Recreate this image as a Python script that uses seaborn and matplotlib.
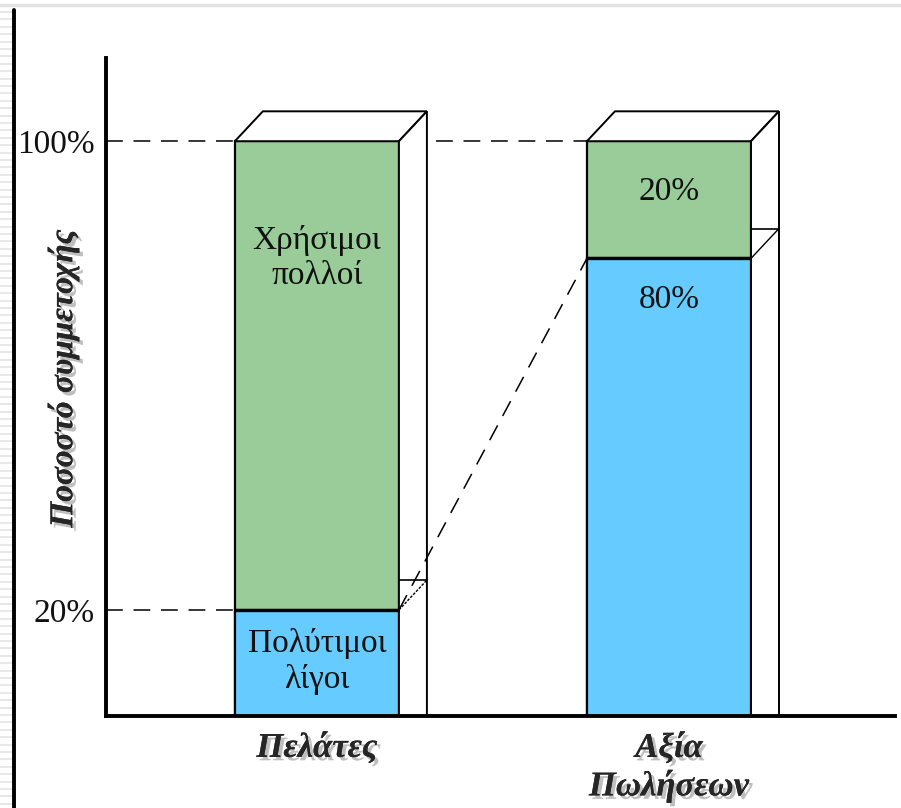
import numpy as np
import pandas as pd
import matplotlib
matplotlib.use("Agg")
import matplotlib.pyplot as plt
import matplotlib.patheffects as pe
from matplotlib.patches import Polygon
from matplotlib.lines import Line2D
import seaborn as sns

# ---- data -------------------------------------------------------------
categories = ["Πελάτες", "Αξία\nΠωλήσεων"]
total_share = [100, 100]          # full height of each column (%)
valuable_share = [20, 80]         # "Πολύτιμοι λίγοι" part (%)
useful_share = [80, 20]           # "Χρήσιμοι πολλοί" part (%)
ytick_values = [20, 100]
ytick_labels = ["20%", "100%"]
ylabel_text = "Ποσοστό συμμετοχής"
left_texts = ["Χρήσιμοι\nπολλοί", "Πολύτιμοι\nλίγοι"]

GREEN = "#99CC99"
BLUE = "#66CCFF"

sns.set_theme(style="white")
plt.rcParams["font.family"] = ["Liberation Serif", "DejaVu Serif"]

fig = plt.figure(figsize=(9.01, 8.08), dpi=100)
W, H = 901, 808
ax = fig.add_axes([106 / W, 92 / H, 789 / W, 658 / H])

bar_w = 0.466
df = pd.DataFrame({"cat": categories, "total": total_share, "valuable": valuable_share})

sns.barplot(data=df, x="cat", y="total", color=GREEN, saturation=1, width=bar_w,
            edgecolor="black", linewidth=1.6, ax=ax, zorder=2)
sns.barplot(data=df, x="cat", y="valuable", color=BLUE, saturation=1, width=bar_w,
            edgecolor="black", linewidth=1.6, ax=ax, zorder=2)

xlim = (-0.599, 1.642)
ylim = (1.9, 114.2)
ax.set_xlim(*xlim)
ax.set_ylim(*ylim)

# depth of the pseudo-3D faces
dx, dy = 0.0795, 5.1

for i, (tot, val) in enumerate(zip(total_share, valuable_share)):
    x0, x1 = i - bar_w / 2, i + bar_w / 2
    # top face
    ax.add_patch(Polygon([(x0, tot), (x0 + dx, tot + dy), (x1 + dx, tot + dy), (x1, tot)],
                         closed=True, facecolor="white", edgecolor="black", lw=1.4, zorder=3))
    # side face
    ax.add_patch(Polygon([(x1, -5), (x1, tot), (x1 + dx, tot + dy), (x1 + dx, -5)],
                         closed=True, facecolor="white", edgecolor="black", lw=1.4, zorder=3))
    # split marks on the side face
    ax.plot([x1, x1 + dx], [val + dy, val + dy], color="black", lw=1.2, zorder=4)
    ax.plot([x1, x1 + dx], [val, val + dy], color="black", lw=1.0,
            ls=(0, (2, 1)) if i == 0 else "-", zorder=4)
    # thicker boundary between the two segments
    ax.plot([x0, x1], [val, val], color="black", lw=2.4, zorder=4, solid_capstyle="butt")

# dashed guide lines
dash = (0, (11, 7))
ax.plot([xlim[0], 1 - bar_w / 2], [total_share[0], total_share[0]],
        color="black", lw=1.1, ls=dash, zorder=1)
ax.plot([xlim[0], 0 - bar_w / 2], [valuable_share[0], valuable_share[0]],
        color="black", lw=1.1, ls=dash, zorder=1)
ax.plot([0 + bar_w / 2, 1 - bar_w / 2], [valuable_share[0], valuable_share[1]],
        color="black", lw=1.1, ls=dash, zorder=5)

# labels inside the columns
txt_kw = dict(ha="center", va="center", fontsize=24, color="#111111", zorder=6)
ax.text(0, valuable_share[0] + useful_share[0] * 0.75, left_texts[0], **txt_kw)
ax.text(0, valuable_share[0] * 0.56, left_texts[1], **txt_kw)
ax.text(1, valuable_share[1] + useful_share[1] * 0.57, f"{useful_share[1]}%", **txt_kw)
ax.text(1, valuable_share[1] - 7, f"{valuable_share[1]}%", **txt_kw)

# axes styling
for side in ("top", "right"):
    ax.spines[side].set_visible(False)
for side in ("left", "bottom"):
    ax.spines[side].set_linewidth(2.8)
    ax.spines[side].set_color("black")
    ax.spines[side].set_zorder(7)

shadow = [pe.withSimplePatchShadow(offset=(2.5, -2.5), shadow_rgbFace="0.45", alpha=0.45),
          pe.Normal()]

ax.set_yticks(ytick_values)
ax.set_yticklabels(ytick_labels, fontsize=24, color="#111111")
ax.tick_params(axis="y", length=0, pad=8)
ax.set_xlabel("")
ax.set_ylabel("")
ax.tick_params(axis="x", length=0, pad=11)
for lab in ax.get_xticklabels():
    lab.set_fontsize(25)
    lab.set_fontstyle("italic")
    lab.set_fontweight("bold")
    lab.set_linespacing(1.15)
    lab.set_path_effects(shadow)

fig.text(63 / W, 1 - 378 / H, ylabel_text, rotation=90, ha="center", va="center",
         fontsize=24, fontstyle="italic", fontweight="bold", path_effects=shadow)

# page frame: thin grey rule on top, striped margin and dark rule on the left
fig.add_artist(Line2D([0, 1], [1 - 5 / H, 1 - 5 / H], transform=fig.transFigure,
                      color="#e2e2e2", lw=2.5))
for yy in np.arange(12, H, 7.4):
    fig.add_artist(Line2D([0, 12 / W], [1 - yy / H, 1 - yy / H], transform=fig.transFigure,
                          color="#e4e4e4", lw=1.2))
fig.add_artist(Line2D([14 / W, 14 / W], [0, 1 - 10 / H], transform=fig.transFigure,
                      color="black", lw=2.8))

fig.savefig("out.png", dpi=100)
